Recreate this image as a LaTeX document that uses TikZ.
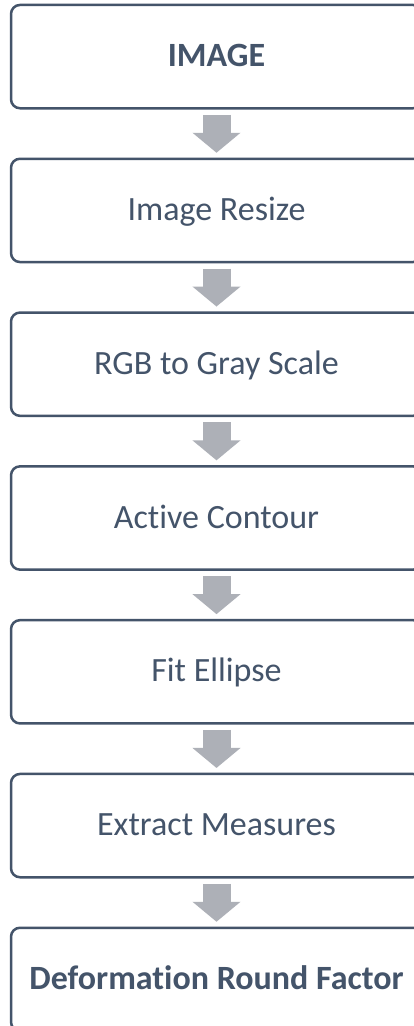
\documentclass[tikz,border=0pt]{standalone}
\usepackage{fontspec}
\setmainfont{Carlito}[Ligatures=NoCommon]
\usetikzlibrary{positioning,arrows.meta}
\definecolor{boxline}{RGB}{68,84,106}
\definecolor{boxtext}{RGB}{68,84,106}
\definecolor{arrowgray}{RGB}{173,176,183}
\tikzset{
  stepbox/.style={draw=boxline, line width=2.5pt, rounded corners=9pt,
    minimum width=411pt, minimum height=103.3pt, outer sep=0pt,
    text=boxtext, font=\fontsize{34}{40}\selectfont,
    text height=24pt, text depth=4pt, inner sep=0pt, fill=white},
  boldbox/.style={stepbox, font=\fontsize{34}{40}\selectfont\bfseries},
  flowarrow/.style={draw=arrowgray, line width=28pt,
    -{Triangle[width=47pt,length=20pt,fill=arrowgray]},
    shorten <=6.5pt, shorten >=6pt}
}
\begin{document}
\begin{tikzpicture}
\useasboundingbox (0,0) rectangle (414pt,-1026pt);
\fill[white] (0,0) rectangle (414pt,-1026pt);
\clip (0,0) rectangle (414pt,-1026pt);
\node[boldbox] (b1) at (216.5pt,-56.6pt) {IMAGE};
\node[stepbox, below=50.5pt of b1] (b2) {Image Resize};
\node[stepbox, below=50.5pt of b2] (b3) {RGB to Gray Scale};
\node[stepbox, below=50.5pt of b3] (b4) {Active Contour};
\node[stepbox, below=50.5pt of b4] (b5) {Fit Ellipse};
\node[stepbox, below=50.5pt of b5] (b6) {Extract Measures};
\node[boldbox, below=50.5pt of b6] (b7) {Deformation Round Factor};
\draw[flowarrow] (b1) -- (b2);
\draw[flowarrow] (b2) -- (b3);
\draw[flowarrow] (b3) -- (b4);
\draw[flowarrow] (b4) -- (b5);
\draw[flowarrow] (b5) -- (b6);
\draw[flowarrow] (b6) -- (b7);
\end{tikzpicture}
\end{document}
